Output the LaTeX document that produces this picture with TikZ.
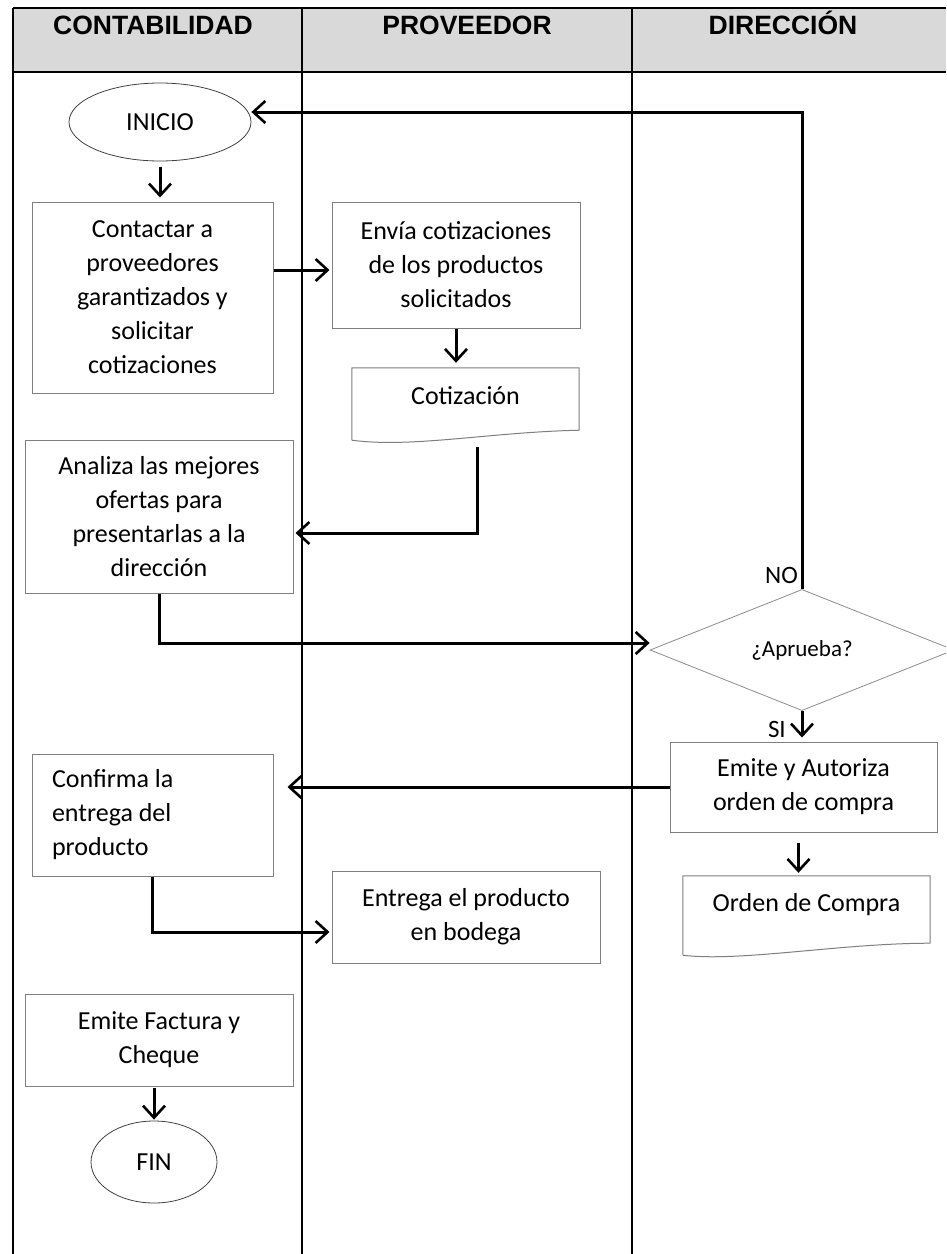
\documentclass[tikz,border=0pt]{standalone}
\usepackage{fontspec}
\setmainfont{Carlito}
\newfontfamily\headfont{Liberation Sans}
\usetikzlibrary{arrows.meta,shapes.geometric,calc}
\definecolor{headfill}{HTML}{D9D9D9}
\definecolor{boxline}{HTML}{7F7F7F}
\definecolor{ovalline}{HTML}{404040}
\definecolor{diamline}{HTML}{8C8C8C}

\begin{document}
\begin{tikzpicture}[x=1pt,y=1pt,
  lane/.style={line width=2.6pt, black},
  txt/.style={font=\fontsize{26}{34}\selectfont},
  box/.style={txt, draw=boxline, line width=1pt, rectangle, inner sep=0pt, align=center},
  term/.style={txt, draw=ovalline, line width=0.8pt, ellipse, inner sep=0pt},
  docbox/.style={txt, rectangle, inner sep=0pt, align=center},
  docline/.style={draw=boxline, line width=1pt},
  decision/.style={diamond, draw=diamline, line width=0.8pt, inner sep=0pt,
    font=\fontsize{23}{28}\selectfont},
  conn/.style={line width=3pt, -{Straight Barb[length=12pt,width=22pt,line width=2.6pt]}},
  head/.style={font=\headfont\bfseries\fontsize{26.5}{30}\selectfont, anchor=base, inner sep=0pt},
  lbl/.style={font=\fontsize{25}{30}\selectfont, anchor=east, inner sep=0pt}
]
\useasboundingbox (0,0) rectangle (946,-1254);
\clip (0,0) rectangle (946,-1254);
\fill[white] (0,0) rectangle (946,-1254);

% swimlane table
\fill[headfill] (13,-8) rectangle (946,-72);
\draw[lane] (13,-8) -- (946,-8);
\draw[lane] (13,-72) -- (946,-72);
\draw[lane] (13,-8) -- (13,-1254);
\draw[lane] (302,-8) -- (302,-1254);
\draw[lane] (632,-8) -- (632,-1254);
\node[head] (h1) at (153,-34) {CONTABILIDAD};
\node[head] (h2) at (467,-34) {PROVEEDOR};
\node[head] (h3) at (783,-34) {DIRECCIÓN};

% process steps
\node[term, minimum width=182pt, minimum height=78pt] (ini) at (160,-122) {INICIO};
\node[box, minimum width=241pt, minimum height=191pt] (con) at (152.5,-297.5)
  {Contactar a\\proveedores\\garantizados y\\solicitar\\cotizaciones};
\node[box, minimum width=248pt, minimum height=126pt] (env) at (456,-265)
  {Envía cotizaciones\\de los productos\\solicitados};
\node[docbox, minimum width=227pt, minimum height=56pt] (cot) at (465.5,-396) {Cotización};
\draw[docline] ([yshift=-16pt]cot.south west) -- (cot.north west) -- (cot.north east)
  -- ([yshift=-6pt]cot.south east)
  .. controls ($(cot.south east)+(-90,-8)$) and ($(cot.south west)+(60,-24)$)
  .. ([yshift=-16pt]cot.south west);
\node[box, minimum width=268pt, minimum height=153pt] (ana) at (159,-516.5)
  {Analiza las mejores\\ofertas para\\presentarlas a la\\dirección};
\node[decision, minimum width=304pt, minimum height=110pt] (dec) at (802,-650) {¿Aprueba?};
\node[box, minimum width=267pt, minimum height=90pt] (emi) at (803.5,-787)
  {Emite y Autoriza\\orden de compra};
\node[box, minimum width=241pt, minimum height=122pt, align=flush left,
  text width=201pt, inner xsep=20pt] (conf) at (152.5,-815)
  {Confirma la\\entrega del\\producto};
\node[docbox, minimum width=247pt, minimum height=58pt] (ord) at (806.5,-905) {Orden de Compra};
\draw[docline] ([yshift=-21pt]ord.south west) -- (ord.north west) -- (ord.north east)
  -- ([yshift=-9pt]ord.south east)
  .. controls ($(ord.south east)+(-90,-9)$) and ($(ord.south west)+(57,-28)$)
  .. ([yshift=-21pt]ord.south west);
\node[box, minimum width=268pt, minimum height=92pt] (ent) at (466,-917)
  {Entrega el producto\\en bodega};
\node[box, minimum width=268pt, minimum height=92pt] (fac) at (159,-1040)
  {Emite Factura y\\Cheque};
\node[term, minimum width=126pt, minimum height=82pt] (fin) at (154,-1162) {FIN};

% decision labels
\node[lbl] (lno) at ([xshift=-4pt,yshift=14pt]dec.north) {NO};
\node[lbl] (lsi) at ([xshift=-16pt,yshift=-18pt]dec.south) {SI};

% connectors
\coordinate (envin) at ($(env.west)+(0,-5)$);
\coordinate (anain) at ($(ana.east)+(2,-16.5)$);
\coordinate (decin) at ($(dec.west)+(0,7)$);
\coordinate (iniin) at ($(ini.east)+(0,10)$);
\coordinate (entin) at ($(ent.west)+(-2,-15)$);
\coordinate (cotout) at ($(cot.south)+(11.5,-23)$);

\draw[conn, shorten <=6pt, shorten >=4pt] (ini.south) -- (ini.south |- con.north);
\draw[conn, shorten >=2pt] (con.east |- envin) -- (envin);
\draw[conn, shorten >=5pt] (env.south) -- (env.south |- cot.north);
\draw[conn] (cotout) |- (anain);
\draw[conn] (ana.south) |- (decin);
\draw[conn] (dec.north) |- (iniin);
\draw[conn, shorten >=4pt] (dec.south) -- (dec.south |- emi.north);
\draw[conn, shorten >=14pt] (emi.west) -- (emi.west -| conf.east);
\draw[conn, shorten <=10pt, shorten >=3pt] ([xshift=-5pt]emi.south) -- ([xshift=-5pt]emi.south |- ord.north);
\draw[conn] (conf.south) |- (entin);
\draw[conn, shorten <=1pt, shorten >=1pt] (fac.south -| fin.north) -- (fin.north);
\end{tikzpicture}
\end{document}
